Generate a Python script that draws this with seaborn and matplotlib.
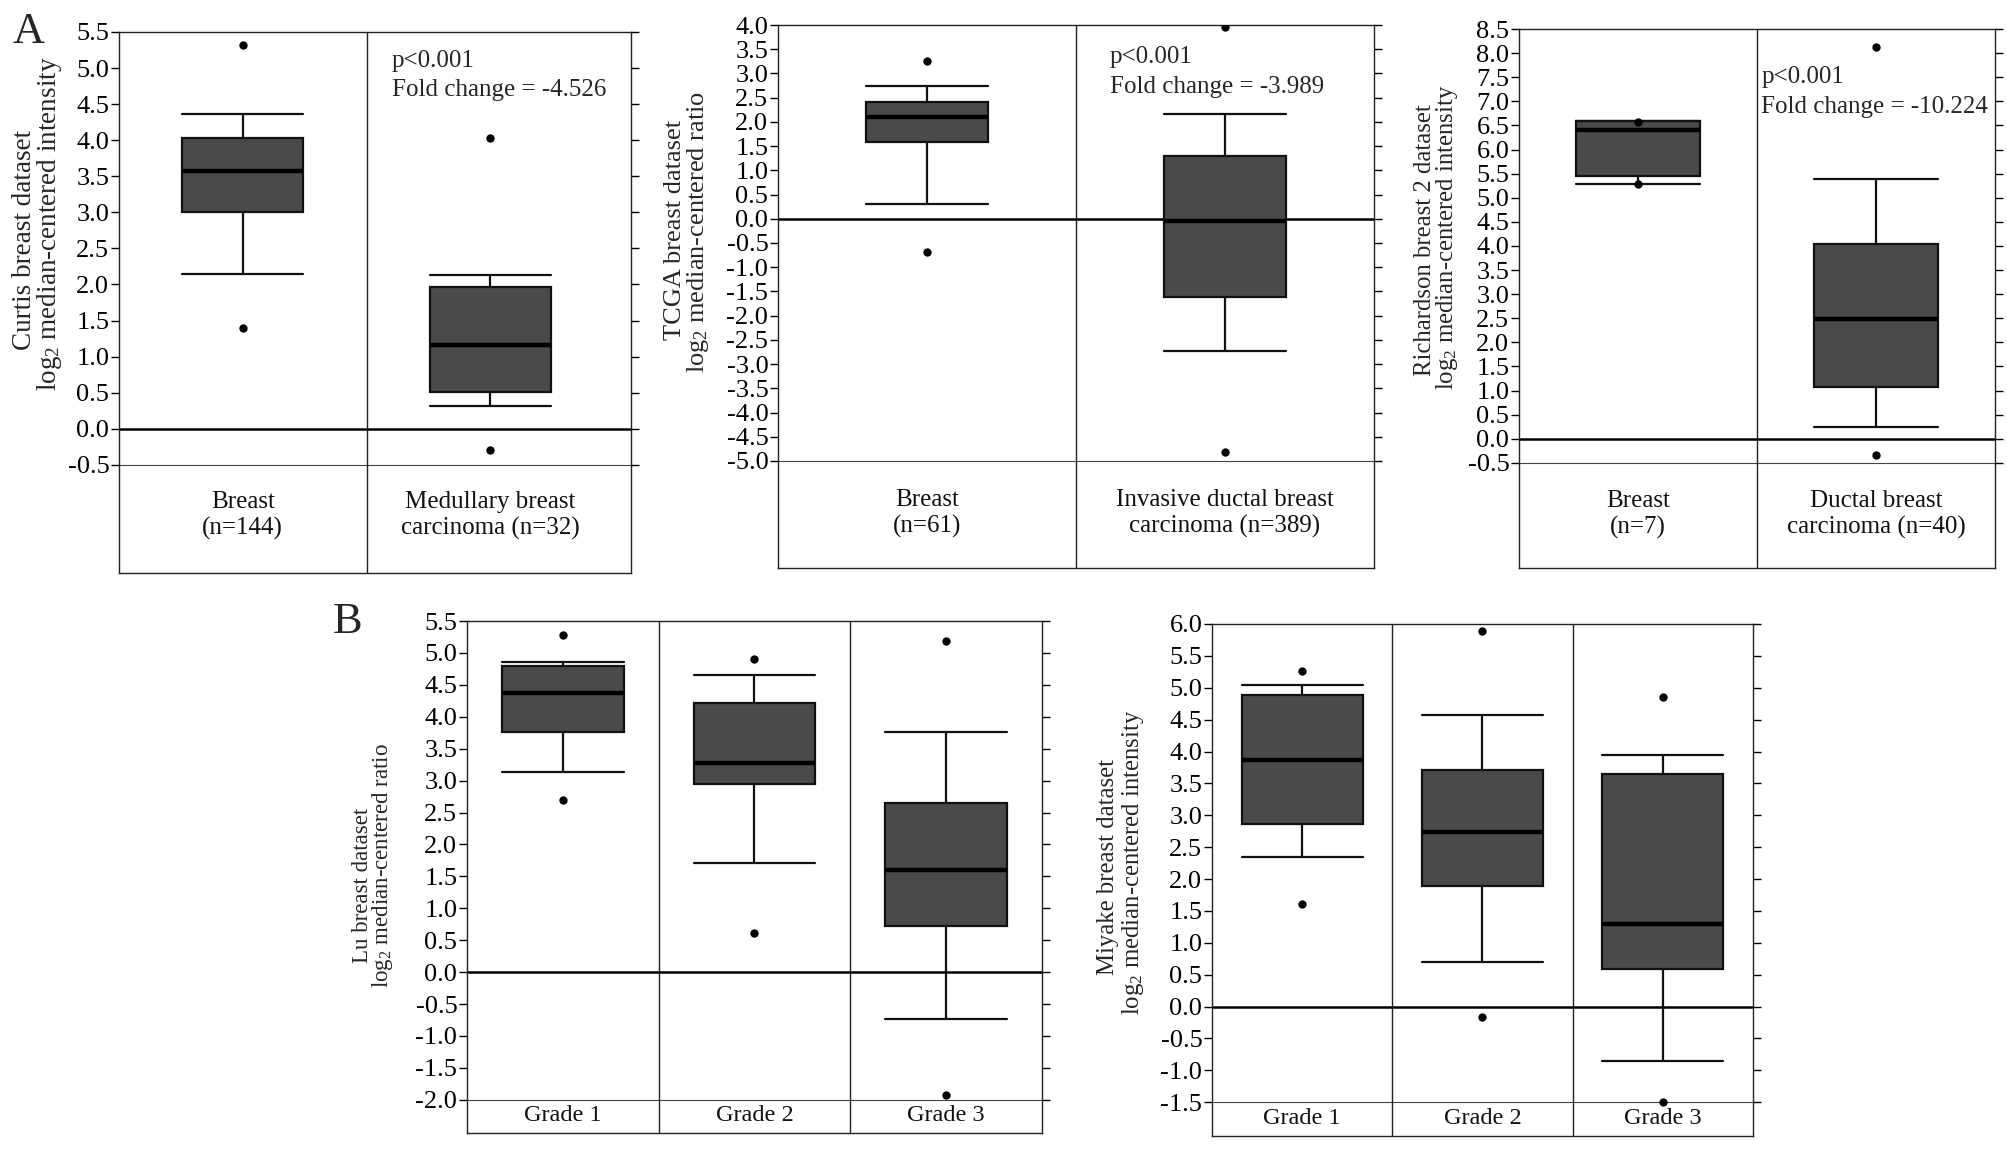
import numpy as np
import pandas as pd
import matplotlib
matplotlib.use("Agg")
import matplotlib.pyplot as plt
import matplotlib.transforms as mtransforms
import seaborn as sns

# ------------------------------------------------------------------ data
# Panel A1 - Curtis
curtis_groups = ["Breast", "Medullary breast carcinoma"]
curtis_labels = ["Breast\n(n=144)", "Medullary breast\ncarcinoma (n=32)"]
curtis_min = [1.40, -0.29]
curtis_wlo = [2.15, 0.32]
curtis_q1 = [3.00, 0.51]
curtis_med = [3.57, 1.16]
curtis_q3 = [4.03, 1.96]
curtis_whi = [4.37, 2.13]
curtis_max = [5.32, 4.03]

# Panel A2 - TCGA
tcga_groups = ["Breast", "Invasive ductal breast carcinoma"]
tcga_labels = ["Breast\n(n=61)", "Invasive ductal breast\ncarcinoma (n=389)"]
tcga_min = [-0.68, -4.81]
tcga_wlo = [0.31, -2.73]
tcga_q1 = [1.59, -1.61]
tcga_med = [2.11, -0.055]
tcga_q3 = [2.41, 1.29]
tcga_whi = [2.745, 2.16]
tcga_max = [3.25, 3.95]

# Panel A3 - Richardson 2
rich_groups = ["Breast", "Ductal breast carcinoma"]
rich_labels = ["Breast\n(n=7)", "Ductal breast\ncarcinoma (n=40)"]
rich_min = [5.29, -0.34]
rich_wlo = [5.29, 0.24]
rich_q1 = [5.45, 1.07]
rich_med = [6.40, 2.48]
rich_q3 = [6.60, 4.05]
rich_whi = [6.60, 5.38]
rich_max = [6.58, 8.13]

# Panel B1 - Lu
lu_groups = ["Grade 1", "Grade 2", "Grade 3"]
lu_labels = ["Grade 1", "Grade 2", "Grade 3"]
lu_min = [2.69, 0.62, -1.92]
lu_wlo = [3.14, 1.71, -0.73]
lu_q1 = [3.755, 2.945, 0.73]
lu_med = [4.37, 3.28, 1.60]
lu_q3 = [4.79, 4.21, 2.65]
lu_whi = [4.85, 4.66, 3.755]
lu_max = [5.275, 4.91, 5.19]

# Panel B2 - Miyake
miy_groups = ["Grade 1", "Grade 2", "Grade 3"]
miy_labels = ["Grade 1", "Grade 2", "Grade 3"]
miy_min = [1.61, -0.16, -1.49]
miy_wlo = [2.35, 0.70, -0.86]
miy_q1 = [2.87, 1.89, 0.59]
miy_med = [3.86, 2.74, 1.30]
miy_q3 = [4.885, 3.71, 3.655]
miy_whi = [5.04, 4.57, 3.95]
miy_max = [5.27, 5.89, 4.85]

curtis_ticks = np.arange(-0.5, 5.51, 0.5)
tcga_ticks = np.arange(-5.0, 4.01, 0.5)
rich_ticks = np.arange(-0.5, 8.51, 0.5)
lu_ticks = np.arange(-2.0, 5.51, 0.5)
miy_ticks = np.arange(-1.5, 6.01, 0.5)

# ------------------------------------------------------------------ style
sns.set_theme(style="white")
plt.rcParams["font.family"] = ["Liberation Serif", "DejaVu Serif"]
plt.rcParams["mathtext.fontset"] = "custom"
plt.rcParams["mathtext.rm"] = "Liberation Serif"
plt.rcParams["mathtext.it"] = "Liberation Serif:italic"
plt.rcParams["axes.unicode_minus"] = False

W, H = 2008, 1149
fig = plt.figure(figsize=(W / 100, H / 100), dpi=100)
fig.patch.set_facecolor("white")

BOX = "#4a4a4a"


def add_ax(l, r, t, b):
    return fig.add_axes([l / W, 1 - b / H, (r - l) / W, (b - t) / H])


def draw_panel(ax, groups, labels, mins, wlo, q1, med, q3, whi, maxs,
               ylim, ticks, bw, label_y, annot=None, tick_fs=19, cat_fs=18,
               xmax=None):
    rows = []
    for i, g in enumerate(groups):
        for v in (wlo[i], q1[i], med[i], q3[i], whi[i]):
            rows.append((g, v))
    df = pd.DataFrame(rows, columns=["group", "value"])
    ext = pd.DataFrame({"group": list(groups) * 2, "value": list(mins) + list(maxs)})

    ax.axhline(0, color="black", lw=1.8, zorder=1)
    ax.axhline(ticks[0], color="#444444", lw=0.8, zorder=1)
    for i in range(1, len(groups)):
        ax.axvline(i - 0.5, color="#222222", lw=1.0, zorder=1)

    sns.boxplot(data=df, x="group", y="value", order=groups, ax=ax,
                whis=(0, 100), width=bw, capwidths=bw, color=BOX, saturation=1,
                linecolor="#111111", linewidth=1.6, showfliers=False,
                medianprops=dict(color="black", linewidth=3.2), zorder=3)
    sns.stripplot(data=ext, x="group", y="value", order=groups, ax=ax,
                  jitter=False, color="black", size=6, zorder=5)

    ax.set_xlim(-0.5, (len(groups) - 0.5) if xmax is None else xmax)
    ax.set_ylim(*ylim)
    ax.set_yticks(ticks)
    ax.set_yticklabels([f"{t:.1f}" for t in ticks])
    ax.set_xticks([])
    ax.set_xlabel("")
    ax.set_ylabel("")
    ax.tick_params(axis="y", left=True, right=True, direction="out",
                   length=6, width=1.0, labelsize=tick_fs, pad=1, colors="black")
    for s in ax.spines.values():
        s.set_visible(True)
        s.set_color("#222222")
        s.set_linewidth(1.0)
    for i, lab in enumerate(labels):
        ax.text(i, label_y, lab, ha="center", va="center", fontsize=cat_fs,
                linespacing=1.2, color="#111111")
    if annot is not None:
        trans = mtransforms.blended_transform_factory(ax.transAxes, ax.transData)
        xf, (y1, t1), (y2, t2) = annot
        ax.text(xf, y1, t1, transform=trans, ha="left", va="center", fontsize=18)
        ax.text(xf, y2, t2, transform=trans, ha="left", va="center", fontsize=18)


def ylab(p1, p2, t1, t2, fs):
    for (x, y), t in ((p1, t1), (p2, t2)):
        fig.text(x / W, 1 - y / H, t, rotation=90, ha="center", va="center",
                 fontsize=fs)


LOG2 = "log$_{\\mathregular{2}}$"

ax1 = add_ax(119, 631, 32, 573)
draw_panel(ax1, curtis_groups, curtis_labels, curtis_min, curtis_wlo, curtis_q1,
           curtis_med, curtis_q3, curtis_whi, curtis_max, (-2.0, 5.5),
           curtis_ticks, 0.49, -1.2, xmax=1.568,
           annot=(0.533, (5.10, "p<0.001"), (4.69, "Fold change = -4.526")))
ylab((25, 240), (50, 224), "Curtis breast dataset",
     LOG2 + " median-centered intensity", 19.5)

ax2 = add_ax(778, 1374, 25, 568)
draw_panel(ax2, tcga_groups, tcga_labels, tcga_min, tcga_wlo, tcga_q1,
           tcga_med, tcga_q3, tcga_whi, tcga_max, (-7.21, 4.0),
           tcga_ticks, 0.41, -6.09,
           annot=(0.557, (3.33, "p<0.001"), (2.73, "Fold change = -3.989")))
ylab((675, 230), (698, 232), "TCGA breast dataset",
     LOG2 + " median-centered ratio", 19)

ax3 = add_ax(1519, 1995, 29, 568)
draw_panel(ax3, rich_groups, rich_labels, rich_min, rich_wlo, rich_q1,
           rich_med, rich_q3, rich_whi, rich_max, (-2.68, 8.5),
           rich_ticks, 0.52, -1.57,
           annot=(0.509, (7.50, "p<0.001"), (6.89, "Fold change = -10.224")))
ylab((1425, 240), (1447, 237), "Richardson breast 2 dataset",
     LOG2 + " median-centered intensity", 17.8)

ax4 = add_ax(467, 1042, 621, 1133)
draw_panel(ax4, lu_groups, lu_labels, lu_min, lu_wlo, lu_q1, lu_med, lu_q3,
           lu_whi, lu_max, (-2.52, 5.5), lu_ticks, 0.635, -2.24,
           cat_fs=17.5)
ylab((362, 885), (383, 866), "Lu breast dataset",
     LOG2 + " median-centered ratio", 16.5)

ax5 = add_ax(1212, 1753, 624, 1136)
draw_panel(ax5, miy_groups, miy_labels, miy_min, miy_wlo, miy_q1, miy_med,
           miy_q3, miy_whi, miy_max, (-2.03, 6.0), miy_ticks, 0.67, -1.76,
           cat_fs=17.5)
ylab((1108, 867), (1133, 862), "Miyake breast dataset",
     LOG2 + " median-centered intensity", 17.8)

fig.text(29 / W, 1 - 32 / H, "A", fontsize=32, ha="center", va="center")
fig.text(348 / W, 1 - 622 / H, "B", fontsize=32, ha="center", va="center")

fig.savefig("out.png", dpi=100, facecolor="white")
